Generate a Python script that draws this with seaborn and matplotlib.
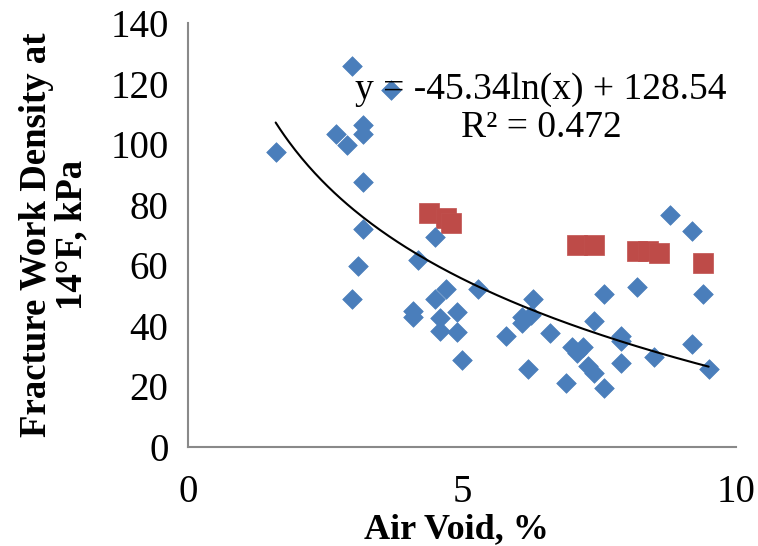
import numpy as np
import pandas as pd
import matplotlib
matplotlib.use("Agg")
import matplotlib.pyplot as plt
import seaborn as sns

# Air void (%) and fracture work density at 14°F (kPa)
blue_air_void = [1.6, 2.7, 2.9, 3.0, 3.7, 3.2, 3.2, 3.2, 3.2, 3.1, 3.0, 4.2, 4.5,
                 4.7, 4.5, 5.3, 4.1, 4.1, 4.6, 4.9, 4.6, 4.9, 5.0, 5.8, 6.3, 6.1,
                 6.25, 6.1, 6.6, 6.2, 7.0, 7.2, 7.1, 7.4, 7.6, 8.2, 7.9, 7.9, 7.3,
                 7.4, 7.9, 6.9, 7.6, 8.5, 9.2, 9.5, 9.4, 8.8, 9.2]
blue_fwd = [97.4, 103.4, 99.9, 125.8, 118.0, 106.5, 103.5, 87.7, 72.0, 59.9, 48.8,
            61.8, 69.2, 52.2, 48.7, 52.1, 45.0, 42.8, 42.7, 44.5, 38.1, 37.9, 28.7,
            36.6, 48.9, 43.0, 43.6, 40.8, 37.5, 25.7, 33.1, 33.1, 31.1, 41.4, 50.5,
            52.8, 36.6, 34.8, 26.8, 24.3, 27.6, 21.2, 19.5, 29.5, 34.0, 25.8, 50.5,
            76.7, 71.5]

red_air_void = [4.4, 4.7, 4.8, 7.1, 7.4, 8.2, 8.4, 8.6, 9.4]
red_fwd = [77.3, 75.6, 74.0, 66.8, 66.8, 64.8, 64.8, 64.0, 60.7]

# Logarithmic trend line: y = a ln(x) + b
trend_a = -45.34
trend_b = 128.54
trend_r2 = 0.472
trend_x_range = (1.6, 9.5)

x_ticks = [0, 5, 10]
y_ticks = [0, 20, 40, 60, 80, 100, 120, 140]

sns.set_style("white")
plt.rcParams["font.family"] = ["Liberation Serif", "DejaVu Serif"]
plt.rcParams["text.color"] = "black"
plt.rcParams["axes.labelcolor"] = "black"

blue_df = pd.DataFrame({"air_void": blue_air_void, "fwd": blue_fwd})
red_df = pd.DataFrame({"air_void": red_air_void, "fwd": red_fwd})
tx = np.linspace(trend_x_range[0], trend_x_range[1], 200)
trend_df = pd.DataFrame({"air_void": tx, "fwd": trend_a * np.log(tx) + trend_b})

fig = plt.figure(figsize=(7.58, 5.46), dpi=100)
ax = fig.add_axes([0.248, 0.182, 0.723, 0.775])

sns.scatterplot(data=red_df, x="air_void", y="fwd", ax=ax, marker="s", s=200,
                color="#BE4B48", edgecolor="#C0504D", linewidth=0.5, zorder=2)
sns.scatterplot(data=blue_df, x="air_void", y="fwd", ax=ax, marker="D", s=100,
                color="#4A7EBB", edgecolor="#4A7EBB", linewidth=0.5, zorder=3)
sns.lineplot(data=trend_df, x="air_void", y="fwd", ax=ax, color="black",
             linewidth=1.5, zorder=4, sort=False)

ax.set_xlim(0, 10)
ax.set_ylim(0, 140)
ax.set_xticks(x_ticks)
ax.set_yticks(y_ticks)

for side in ["top", "right"]:
    ax.spines[side].set_visible(False)
for side in ["left", "bottom"]:
    ax.spines[side].set_color("#898989")
    ax.spines[side].set_linewidth(1.5)
ax.tick_params(axis="both", which="major", direction="out", length=8, width=1.5,
               color="#898989", labelsize=28, labelcolor="black", pad=6)
ax.tick_params(axis="x", pad=12)

ax.set_xlabel("Air Void, %", fontsize=26, fontweight="bold")
ax.xaxis.set_label_coords(0.49, -0.158)
ax.set_ylabel("Fracture Work Density at\n14°F, kPa", fontsize=26.5,
              fontweight="bold", linespacing=1.0)
ax.yaxis.set_label_coords(-0.18, 0.5)

ax.text(6.44, 118.1, f"y = {trend_a}ln(x) + {trend_b}",
        ha="center", va="center", fontsize=27, zorder=5)
ax.text(6.44, 105.5, f"R² = {trend_r2}",
        ha="center", va="center", fontsize=27, zorder=5)

fig.savefig("out.png", dpi=100, facecolor="white")
